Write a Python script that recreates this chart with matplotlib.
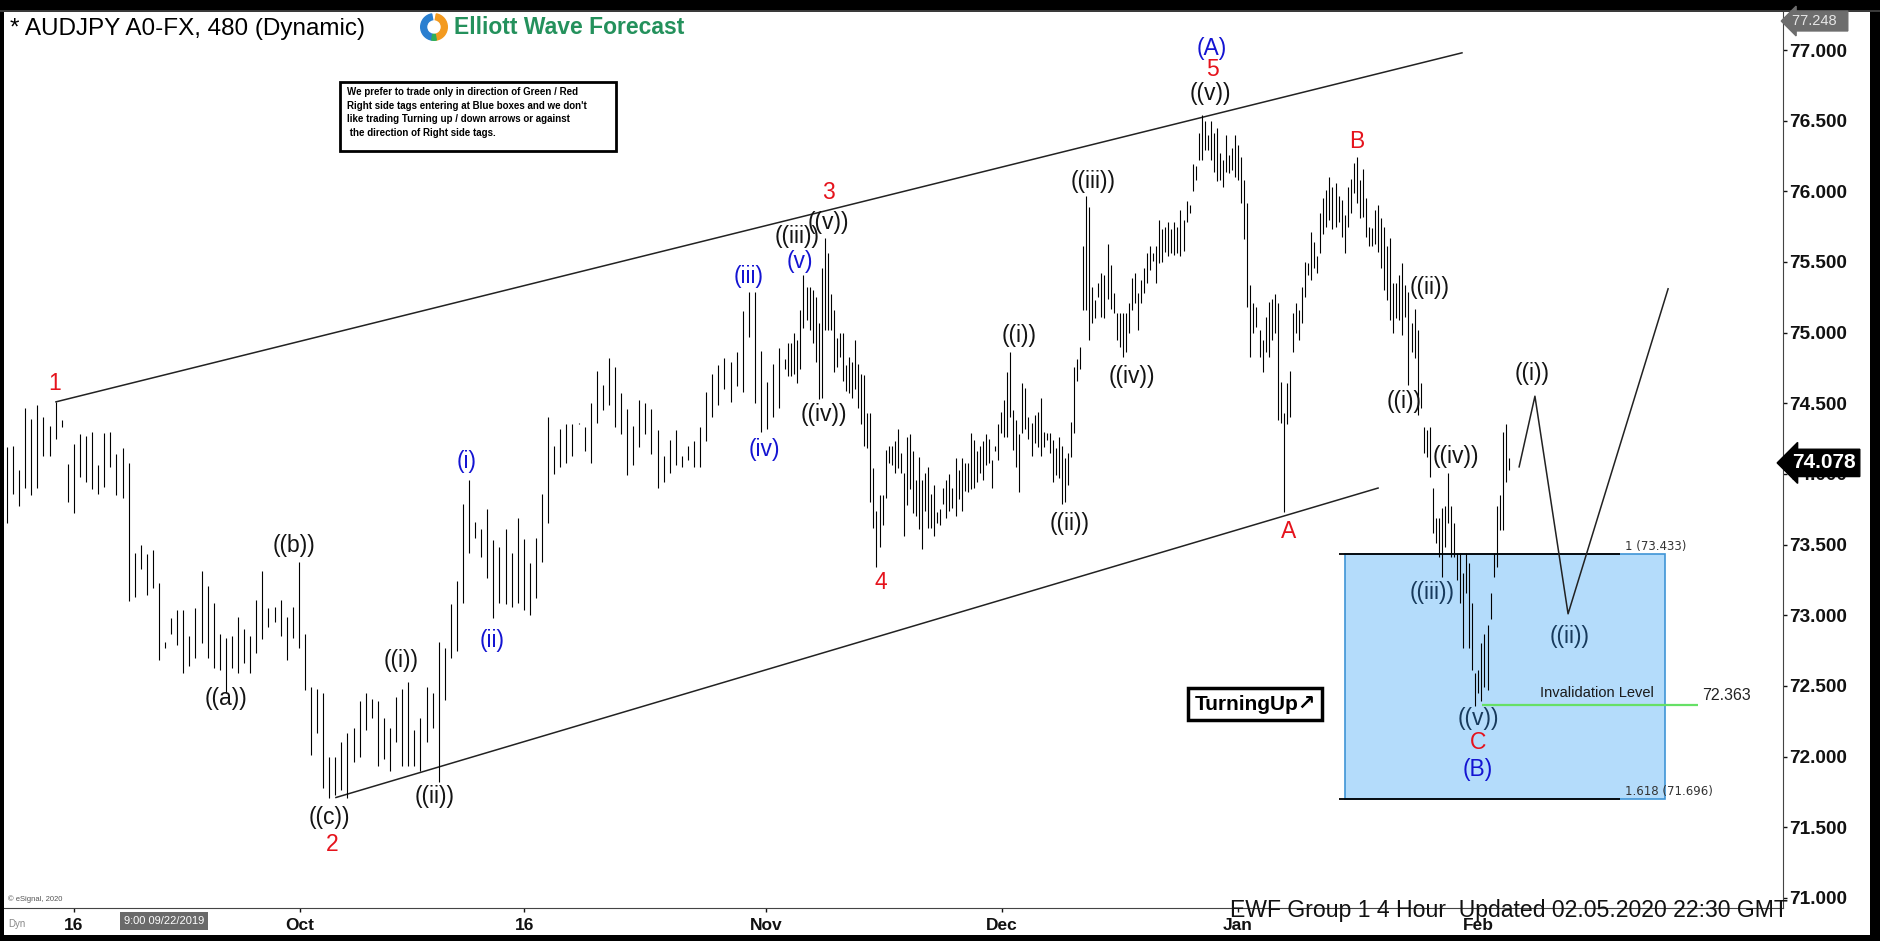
import numpy as np
import matplotlib.pyplot as plt
from matplotlib.patches import Rectangle, Wedge

plt.rcParams['font.family'] = ['Liberation Sans', 'DejaVu Sans']

# --- price bars (high / low) ---
# first part: 480 min bars, mid Sep -> early Nov
high_a = [
    74.19, 74.20, 74.03, 74.47, 74.39, 74.49, 74.40, 74.34, 74.51, 74.38,
    74.07, 74.21, 74.28, 74.27, 74.30, 74.06, 74.29, 74.30, 74.14, 74.18,
    74.08, 73.44, 73.50, 73.43, 73.46, 73.23, 72.81, 72.98, 73.04, 73.04,
    72.85, 73.05, 73.31, 73.21, 73.09, 72.87, 72.84, 72.85, 72.99, 72.90,
    72.85, 73.11, 73.31, 73.05, 73.06, 73.11, 72.99, 73.06, 73.38, 72.87,
    72.49, 72.48, 72.45, 72.00, 72.00, 72.10, 72.17, 72.20, 72.39, 72.45,
    72.41, 72.39, 72.27, 72.20, 72.42, 72.48, 72.53, 72.19, 72.27, 72.49,
    72.45, 72.81, 72.77, 73.08, 73.24, 73.79, 73.96, 73.66, 73.61, 73.75,
    73.53, 73.48, 73.61, 73.44, 73.69, 73.54, 73.37, 73.55, 73.86, 74.40,
    74.20, 74.32, 74.35, 74.35, 74.36, 74.33, 74.50, 74.73, 74.63, 74.82,
    74.76, 74.57, 74.46, 74.34, 74.52, 74.50, 74.46, 74.31, 74.13, 74.24,
    74.31, 74.13, 74.20, 74.23, 74.33, 74.58, 74.71, 74.77, 74.82, 74.79,
    74.86, 75.15, 75.29, 75.29, 74.87, 74.65, 74.78, 74.89,
]
low_a = [
    73.65, 73.86, 73.77, 73.90, 73.85, 73.90, 74.13, 74.13, 74.25, 74.33,
    73.80, 73.72, 73.98, 73.94, 73.89, 73.86, 73.91, 74.05, 73.85, 73.83,
    73.10, 73.13, 73.33, 73.14, 73.19, 72.68, 72.77, 72.87, 72.79, 72.59,
    72.64, 72.70, 72.80, 72.70, 72.63, 72.61, 72.45, 72.63, 72.59, 72.66,
    72.59, 72.73, 72.83, 72.92, 72.95, 72.85, 72.68, 72.84, 72.77, 72.47,
    72.01, 72.17, 71.78, 71.71, 71.73, 71.76, 71.71, 71.96, 72.00, 72.19,
    72.27, 71.93, 71.98, 71.90, 72.10, 71.93, 71.93, 71.93, 71.90, 72.10,
    72.20, 71.82, 72.40, 72.70, 72.75, 73.09, 73.44, 73.55, 73.41, 73.26,
    72.98, 73.09, 73.08, 73.06, 73.09, 73.04, 73.00, 73.12, 73.38, 73.65,
    74.00, 74.05, 74.08, 74.13, 74.35, 74.16, 74.08, 74.36, 74.45, 74.49,
    74.33, 74.28, 73.99, 74.06, 74.19, 74.28, 74.14, 73.90, 73.94, 74.01,
    74.06, 74.05, 74.10, 74.05, 74.05, 74.23, 74.40, 74.49, 74.60, 74.51,
    74.62, 74.58, 74.97, 74.50, 74.30, 74.32, 74.40, 74.47,
]
# second part: denser bars, early Nov -> Feb
high_b = [
    74.81, 74.93, 74.93, 75.00, 74.95, 75.16, 75.41, 75.32, 75.32, 75.30,
    75.25, 75.07, 75.46, 75.67, 75.56, 75.27, 75.16, 74.96, 75.00, 75.00,
    74.77, 74.83, 74.79, 74.95, 74.78, 74.71, 74.70, 74.43, 74.43, 74.04,
    73.74, 73.85, 73.85, 74.17, 74.20, 74.20, 74.23, 74.32, 74.15, 74.01,
    74.26, 74.28, 74.16, 73.96, 74.12, 73.96, 74.01, 74.05, 73.86, 73.92,
    73.73, 73.75, 73.90, 73.96, 74.00, 73.90, 74.11, 74.03, 74.11, 74.08,
    74.08, 74.29, 74.24, 74.16, 74.20, 74.23, 74.28, 74.25, 74.10, 74.20,
    74.35, 74.44, 74.52, 74.72, 74.86, 74.45, 74.38, 74.28, 74.64, 74.61,
    74.40, 74.36, 74.42, 74.44, 74.54, 74.30, 74.29, 74.29, 74.24, 74.18,
    74.26, 74.20, 74.11, 74.15, 74.37, 74.76, 74.81, 74.90, 75.61, 75.97,
    75.89, 75.32, 75.23, 75.35, 75.42, 75.41, 75.63, 75.48, 75.28, 75.14,
    75.14, 75.14, 75.14, 75.21, 75.39, 75.42, 75.28, 75.37, 75.46, 75.56,
    75.61, 75.56, 75.61, 75.80, 75.73, 75.75, 75.78, 75.73, 75.78, 75.75,
    75.87, 75.80, 75.93, 75.90, 76.19, 76.18, 76.41, 76.54, 76.50, 76.40,
    76.50, 76.41, 76.45, 76.27, 76.22, 76.40, 76.26, 76.31, 76.40, 76.33,
    76.24, 76.08, 75.92, 75.34, 75.21, 75.18, 75.02, 74.95, 75.11, 75.22,
    75.24, 75.27, 75.21, 74.65, 74.43, 74.64, 74.73, 75.14, 75.21, 75.16,
    75.32, 75.50, 75.49, 75.71, 75.64, 75.54, 75.85, 75.95, 76.01, 76.10,
    76.03, 76.06, 75.97, 75.94, 75.83, 76.03, 76.09, 76.20, 76.24, 76.08,
    76.16, 75.95, 75.75, 75.74, 75.87, 75.90, 75.81, 75.75, 75.61, 75.67,
    75.35, 75.35, 75.41, 75.49, 75.34, 75.29, 75.07, 75.17, 75.02, 74.64,
    74.33, 74.31, 74.33,
    73.90, 73.69, 73.69, 73.76, 73.77,
    74.01,
    73.77, 73.65, 73.44, 73.44, 73.30, 73.44, 73.37, 73.09,
    72.59, 72.61, 72.80,
    72.87, 72.93, 73.16, 73.44, 73.77, 73.85, 74.30, 74.35, 74.11,
]
low_b = [
    74.74, 74.69, 74.69, 74.71, 74.64, 74.74, 75.03, 75.09, 75.02, 74.93,
    74.79, 74.53, 74.54, 75.02, 75.02, 75.02, 74.72, 74.76, 74.83, 74.66,
    74.59, 74.57, 74.54, 74.60, 74.47, 74.35, 74.20, 74.18, 73.80, 73.62,
    73.34, 73.48, 73.64, 73.83, 74.08, 74.06, 74.01, 74.04, 74.01, 73.56,
    73.78, 73.89, 73.72, 73.70, 73.61, 73.47, 73.74, 73.62, 73.62, 73.56,
    73.65, 73.64, 73.79, 73.69, 73.74, 73.76, 73.70, 73.82, 73.74, 73.88,
    73.87, 73.89, 73.90, 73.94, 74.01, 73.96, 74.06, 74.08, 73.90, 74.16,
    74.10, 74.29, 74.26, 74.26, 74.40, 74.17, 74.05, 73.87, 74.29, 74.32,
    74.25, 74.13, 74.22, 74.19, 74.13, 74.19, 74.24, 74.15, 73.94, 73.99,
    73.97, 73.79, 73.80, 73.92, 74.12, 74.29, 74.66, 74.74, 75.16, 75.16,
    74.95, 75.07, 75.10, 75.25, 75.11, 75.10, 75.24, 75.17, 75.14, 74.95,
    74.90, 74.83, 74.86, 75.00, 75.16, 75.21, 75.02, 75.21, 75.28, 75.35,
    75.44, 75.51, 75.35, 75.49, 75.50, 75.57, 75.54, 75.56, 75.55, 75.56,
    75.54, 75.58, 75.78, 75.85, 76.00, 76.08, 76.22, 76.22, 76.29, 76.29,
    76.22, 76.14, 76.07, 76.08, 76.03, 76.14, 76.13, 76.15, 76.10, 76.08,
    75.92, 75.66, 75.18, 74.83, 75.00, 75.04, 74.83, 74.72, 74.86, 74.83,
    74.95, 75.00, 74.38, 74.36, 73.73, 74.35, 74.40, 74.86, 75.00, 74.95,
    75.07, 75.25, 75.41, 75.37, 75.46, 75.42, 75.56, 75.70, 75.75, 75.80,
    75.73, 75.75, 75.78, 75.68, 75.56, 75.75, 75.85, 75.99, 75.92, 75.81,
    75.82, 75.68, 75.61, 75.61, 75.63, 75.57, 75.46, 75.30, 75.23, 75.09,
    75.00, 75.10, 75.09, 74.98, 75.11, 74.63, 74.86, 74.82, 74.42, 74.47,
    74.15, 74.12, 73.98,
    73.58, 73.51, 73.41, 73.27, 73.48,
    73.65,
    73.41, 73.41, 73.25, 73.09, 72.77, 73.16, 72.77, 72.61,
    72.36, 72.45, 72.39,
    72.49, 72.47, 72.97, 73.27, 73.34, 73.60, 73.60, 73.94, 74.03,
]

last_price = 74.078
top_tag = 77.248

# date ticks (bar slot index)
tick_pos = [22.0, 96.4, 170.1, 249.7, 327.3, 404.9, 483.9]
tick_lab = ['16', 'Oct', '16', 'Nov', 'Dec', 'Jan', 'Feb']

# trend channel and forecast path (slot, price)
chan_top_t, chan_top_p = [16.1, 478.6], [74.51, 76.98]
chan_bot_t, chan_bot_p = [108.2, 451.0], [71.71, 73.90]
path_t = [497.4, 502.6, 513.5, 546.4]
path_p = [74.05, 74.55, 73.01, 75.31]

# blue box / fib levels
fib_hi, fib_lo = 73.433, 71.696
box_t = [440.1, 545.4]
fib_line_t = [438.2, 530.6]
invalid_lvl = 72.363
invalid_t = [485.2, 556.3]

RED, BLUE, BLK, NAVY = '#e5131c', '#1414d2', '#141414', '#173a5c'
wave_labels = [
    ('1', 15.5, 74.64, RED), ('((b))', 94.4, 73.49, BLK), ('((a))', 72.0, 72.41, BLK),
    ('((c))', 106.2, 71.57, BLK), ('2', 106.9, 71.38, RED), ('((i))', 129.6, 72.68, BLK),
    ('((ii))', 140.5, 71.72, BLK), ('(i)', 151.3, 74.09, BLUE), ('(ii)', 159.5, 72.82, BLUE),
    ('(iii)', 244.1, 75.40, BLUE), ('(iv)', 249.0, 74.17, BLUE), ('((iii))', 259.9, 75.68, BLK),
    ('(v)', 260.9, 75.50, BLUE), ('((v))', 270.1, 75.78, BLK), ('3', 270.1, 75.99, RED),
    ('((iv))', 268.8, 74.42, BLK), ('4', 287.5, 73.23, RED), ('((i))', 332.9, 74.98, BLK),
    ('((ii))', 349.7, 73.65, BLK), ('((iii))', 357.2, 76.07, BLK), ('((iv))', 370.1, 74.69, BLK),
    ('((v))', 395.7, 76.69, BLK), ('5', 396.4, 76.86, RED), ('(A)', 396.4, 77.01, BLUE),
    ('A', 421.7, 73.59, RED), ('B', 444.1, 76.35, RED), ('((ii))', 468.1, 75.32, BLK),
    ('((i))', 459.5, 74.51, BLK), ('((iv))', 476.6, 74.12, BLK), ('((iii))', 468.8, 73.16, NAVY),
    ('((v))', 483.9, 72.27, NAVY), ('C', 483.9, 72.10, RED), ('(B)', 483.9, 71.91, BLUE),
    ('((i))', 501.6, 74.71, BLK), ('((ii))', 514.1, 72.85, NAVY),
]

W, H = 1881, 941


def fx(px):
    return px / W


def fy(py):
    return 1 - py / H


fig = plt.figure(figsize=(W / 100, H / 100), dpi=100, facecolor='black')
fig.patches.append(Rectangle((fx(4), fy(935)), (1870 - 4) / W, (935 - 12) / H,
                             transform=fig.transFigure, facecolor='white',
                             edgecolor='none', zorder=-5))
fig.patches.append(Rectangle((0, fy(12)), 1, 2 / H, transform=fig.transFigure,
                             facecolor='#3a3a3a', edgecolor='none', zorder=-4))

ax = fig.add_axes([fx(4), fy(908), (1783 - 4) / W, (908 - 12) / H])
ax.set_facecolor('white')
ax.set_xlim(-0.99, 584.2)
ax.set_ylim(70.928, 77.269)

t = np.concatenate([np.arange(len(high_a)) * 2,
                    len(high_a) * 2 + np.arange(len(high_b))])
highs = np.array(high_a + high_b)
lows = np.array(low_a + low_b)

# blue box first so bars sit on top
ax.add_patch(Rectangle((box_t[0], fib_lo), box_t[1] - box_t[0], fib_hi - fib_lo,
                       facecolor='#b4dcfb', edgecolor='#3f95d6', lw=1.2, zorder=1))
ax.hlines([fib_hi, fib_lo], fib_line_t[0], fib_line_t[1], color='black', lw=1.3, zorder=2)
ax.text(fib_line_t[1] + 1.5, fib_hi + 0.01, '1 (73.433)', fontsize=8.5, color='#333333',
        family='DejaVu Sans', va='bottom', ha='left', zorder=4)
ax.text(fib_line_t[1] + 1.5, fib_lo + 0.01, '1.618 (71.696)', fontsize=8.5, color='#333333',
        family='DejaVu Sans', va='bottom', ha='left', zorder=4)

ax.vlines(t, lows, highs, colors='black', linewidth=0.8, zorder=3)

ax.plot(chan_top_t, chan_top_p, color='#222222', lw=1.1, zorder=2)
ax.plot(chan_bot_t, chan_bot_p, color='#222222', lw=1.1, zorder=2)
ax.plot(path_t, path_p, color='#222222', lw=1.1, zorder=2)

ax.hlines(invalid_lvl, invalid_t[0], invalid_t[1], color='#66e066', lw=1.6, zorder=3)
ax.text(504.3, invalid_lvl + 0.09, 'Invalidation Level', fontsize=10.5, color='#1a1a1a',
        va='center', ha='left', zorder=4)
ax.text(557.6, invalid_lvl + 0.07, '72.363', fontsize=11.5, color='#222222',
        va='center', ha='left', zorder=4)

for s, xt, yp, c in wave_labels:
    ax.text(xt, yp, s, color=c, fontsize=16.5, ha='center', va='center', zorder=5)

ax.text(410.5, 72.37, 'TurningUp\u2197', fontsize=15, fontweight='bold', ha='center',
        va='center', zorder=6,
        bbox=dict(boxstyle='square,pad=0.3', fc='white', ec='black', lw=2.5))

# axes look
for side in ('top', 'left'):
    ax.spines[side].set_visible(False)
ax.spines['right'].set_color('#444444')
ax.spines['bottom'].set_color('#444444')
ax.yaxis.tick_right()
yt = np.arange(71.0, 77.01, 0.5)
ax.set_yticks(yt)
ax.set_yticklabels([f'{v:.3f}' for v in yt], fontsize=13.7, fontweight='bold')
ax.tick_params(axis='y', direction='out', length=3, width=1, pad=1.5, colors='#111111')
ax.set_xticks(tick_pos)
ax.set_xticklabels(tick_lab, fontsize=12.5, fontweight='bold')
ax.tick_params(axis='x', direction='out', length=3, width=1, pad=4, colors='#111111')

ytr = ax.get_yaxis_transform()
ax.text(1 + 9 / 1779, last_price, f'{last_price:.3f}', transform=ytr, fontsize=15,
        fontweight='bold', color='white', va='center', ha='left', zorder=10, clip_on=False,
        bbox=dict(boxstyle='larrow,pad=0.2', fc='black', ec='black'))
ax.text(1 + 9 / 1779, 77.205, f'{top_tag:.3f}  ', transform=ytr, fontsize=10.5,
        color='#e6e6e6', va='center', ha='left', zorder=10, clip_on=False,
        bbox=dict(boxstyle='larrow,pad=0.2', fc='#6d6d6d', ec='#6d6d6d'))

# header
fig.text(fx(10), fy(29), '* AUDJPY A0-FX, 480 (Dynamic)', fontsize=17.5, va='center', ha='left')
fig.text(fx(454), fy(27), 'Elliott Wave Forecast', fontsize=16.5, fontweight='bold',
         color='#24915c', va='center', ha='left')
lax = fig.add_axes([fx(420), fy(41), 28 / W, 28 / H])
lax.set_xlim(-1, 1)
lax.set_ylim(-1, 1)
lax.set_aspect('equal')
lax.axis('off')
lax.add_patch(Wedge((0, 0), 0.95, 100, 260, width=0.42, color='#2a7fd0'))
lax.add_patch(Wedge((0, 0), 0.95, -80, 80, width=0.42, color='#f39a1f'))
lax.add_patch(Wedge((0, 0), 0.95, 260, 280, width=0.42, color='#2fae5a'))

fig.patches.append(Rectangle((fx(340), fy(151)), 276 / W, 69 / H, transform=fig.transFigure,
                             facecolor='white', edgecolor='black', lw=2, zorder=5))
fig.text(fx(347), fy(87),
         "We prefer to trade only in direction of Green / Red\n"
         "Right side tags entering at Blue boxes and we don't\n"
         "like trading Turning up / down arrows or against\n"
         " the direction of Right side tags.",
         fontsize=7, fontweight='bold', va='top', ha='left', linespacing=1.45, zorder=6)

# footer
fig.text(fx(8), fy(899), '\u00a9 eSignal, 2020', fontsize=5.5, color='#555555', va='center')
fig.text(fx(8), fy(924), 'Dyn', fontsize=7, color='#888888', va='center')
fig.text(fx(124), fy(921), '9:00 09/22/2019', fontsize=8, color='white', va='center',
         bbox=dict(boxstyle='square,pad=0.35', fc='#6a6a6a', ec='none'))
fig.text(fx(1230), fy(910), 'EWF Group 1 4 Hour  Updated 02.05.2020 22:30 GMT',
         fontsize=16.6, color='#111111', va='center', ha='left', zorder=8)

fig.savefig('out.png', dpi=100, facecolor=fig.get_facecolor())
